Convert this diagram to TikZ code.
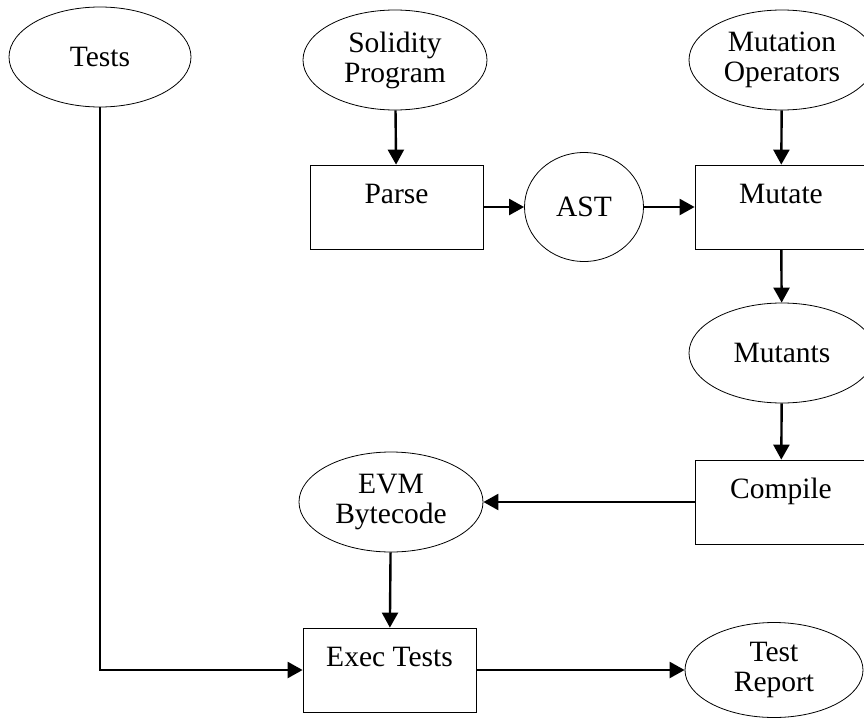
\documentclass[tikz,border=0pt]{standalone}
\usepackage{fontspec}
\setmainfont{Liberation Serif}
\usetikzlibrary{positioning,shapes.geometric,arrows.meta}
\newcommand*{\lbl}{\fontsize{29.5}{30}\selectfont}

\begin{document}
\begin{tikzpicture}[x=1pt,y=-1pt,
  datum/.style={draw,ellipse,line width=.8pt,minimum width=184pt,
    minimum height=100pt,inner sep=0pt,align=center,font=\lbl},
  proc/.style={draw,rectangle,line width=.8pt,minimum width=173pt,
    minimum height=84pt,inner sep=0pt,text height=20pt,text depth=27pt,font=\lbl},
  flow/.style={line width=2.4pt,-{Triangle[length=15pt,width=16pt]}}]
\useasboundingbox (0,0) rectangle (864,717);
% Inputs along the top
\node [datum,minimum width=182pt] (tests) at (100,57) {Tests};
\node [datum] (sol) at (395,60) {Solidity\\Program};
\node [datum,minimum width=186pt] (ops) at (782,60) {Mutation\\Operators};
% Parsing and mutation
\node [proc] (parse) at (396.5,207) {Parse};
\node [datum,minimum width=119pt,minimum height=109pt] (ast) at (584,207) {AST};
\node [proc,minimum width=172pt] (mutate) at (781,207) {Mutate};
\node [datum,minimum width=186pt] (mutants) at (782,353) {Mutants};
\node [proc,minimum width=172pt] (compile) at (781,502) {Compile};
% Execution
\node [datum] (evm) at (391,502) {EVM\\Bytecode};
\node [proc] (exec) at (389.5,670) {Exec Tests};
\node [datum,minimum width=178pt,minimum height=95pt] (report) at (774,670) {Test\\Report};
% Connectors
\draw [flow] (sol) -- (parse);
\draw [flow] (parse) -- (ast);
\draw [flow] (ast) -- (mutate);
\draw [flow] (ops) -- (mutate);
\draw [flow] (mutate) -- (mutants);
\draw [flow] (mutants) -- (compile);
\draw [flow] (compile) -- (evm);
\draw [flow] (evm) -- (exec);
\draw [flow] (tests.south) |- (exec.west);
\draw [flow] (exec) -- (report);
\end{tikzpicture}
\end{document}
